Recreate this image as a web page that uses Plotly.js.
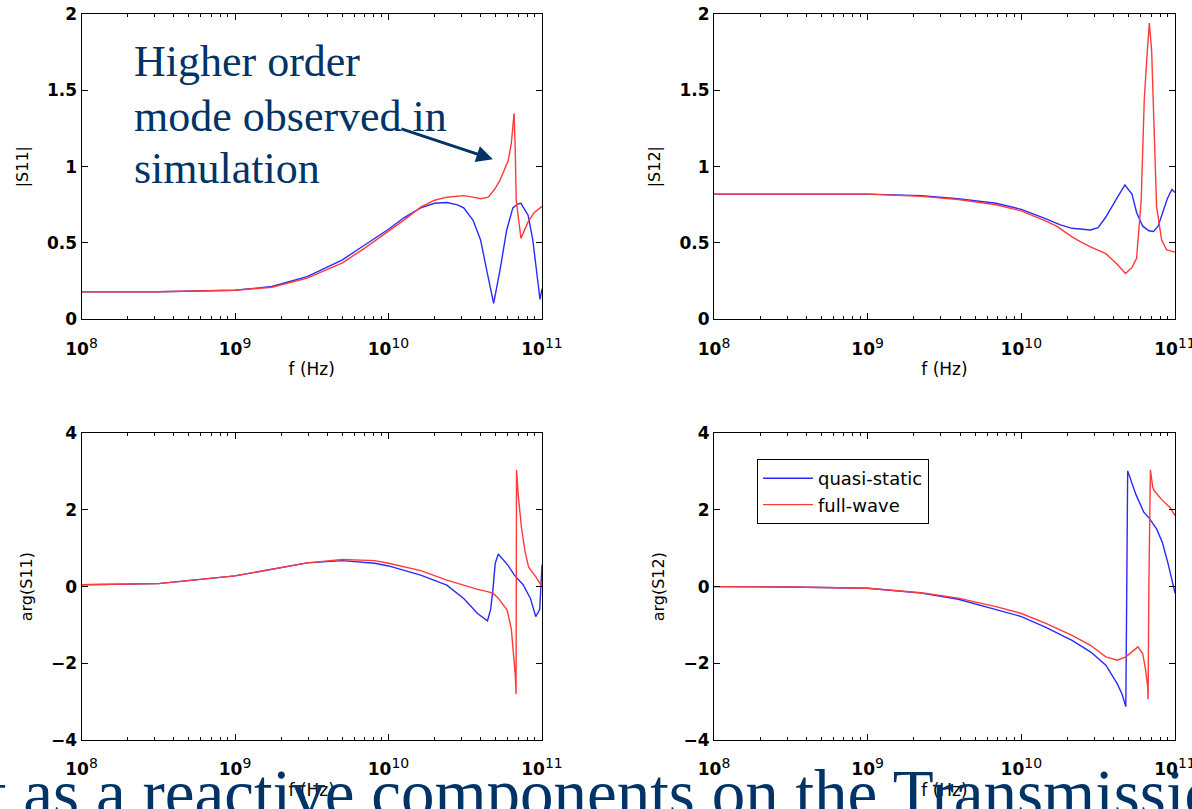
<!DOCTYPE html>
<html>
<head>
<meta charset="utf-8">
<script src="https://cdn.plot.ly/plotly-3.0.1.min.js"></script>
<style>html,body{margin:0;padding:0;background:#fff;}#chart{width:1192px;height:809px;}</style>
</head>
<body>
<div id="chart"></div>
<script>
// ---- Data (frequency in Hz) ----
const seriesNames = ['quasi-static', 'full-wave'];

// |S11|
const qs11mF = [1e8, 3.162e8, 1e9, 1.738e9, 2.951e9, 5.012e9, 7.079e9, 1e10, 1.259e10, 1.622e10, 1.995e10, 2.399e10, 2.818e10, 3.090e10, 3.548e10, 3.981e10, 4.365e10, 4.842e10, 5.321e10, 5.888e10, 6.457e10, 6.918e10, 7.295e10, 8.128e10, 8.710e10, 9.247e10, 9.705e10, 1e11];
const qs11mV = [0.18, 0.18, 0.19, 0.215, 0.28, 0.39, 0.49, 0.59, 0.665, 0.73, 0.76, 0.765, 0.75, 0.73, 0.65, 0.52, 0.32, 0.105, 0.32, 0.585, 0.73, 0.755, 0.76, 0.68, 0.52, 0.32, 0.13, 0.2];
const fw11mF = [1e8, 3.162e8, 1e9, 1.738e9, 2.951e9, 5.012e9, 7.079e9, 1e10, 1.259e10, 1.622e10, 1.995e10, 2.399e10, 3.090e10, 3.548e10, 3.981e10, 4.467e10, 4.898e10, 5.321e10, 5.754e10, 6.026e10, 6.310e10, 6.577e10, 6.699e10, 6.792e10, 7.295e10, 7.586e10, 8.128e10, 8.913e10, 1e11];
const fw11mV = [0.18, 0.18, 0.19, 0.21, 0.27, 0.37, 0.47, 0.575, 0.65, 0.735, 0.78, 0.80, 0.81, 0.80, 0.79, 0.80, 0.85, 0.91, 1.0, 1.04, 1.15, 1.35, 1.1, 0.78, 0.53, 0.57, 0.64, 0.70, 0.74];

// |S12|
const qs12mF = [1e8, 1e9, 2.239e9, 3.890e9, 6.839e9, 1e10, 1.435e10, 1.778e10, 2.138e10, 2.818e10, 3.162e10, 3.548e10, 4.169e10, 4.721e10, 5.248e10, 5.623e10, 6.166e10, 6.761e10, 7.244e10, 7.762e10, 8.318e10, 8.913e10, 9.550e10, 1e11];
const qs12mV = [0.82, 0.82, 0.81, 0.79, 0.76, 0.72, 0.66, 0.62, 0.596, 0.585, 0.60, 0.67, 0.79, 0.88, 0.82, 0.70, 0.61, 0.58, 0.575, 0.61, 0.70, 0.79, 0.85, 0.83];
const fw12mF = [1e8, 1e9, 2.239e9, 3.890e9, 6.839e9, 1e10, 1.435e10, 1.698e10, 2.138e10, 2.399e10, 2.818e10, 3.548e10, 4.207e10, 4.764e10, 5.248e10, 5.623e10, 6.026e10, 6.310e10, 6.607e10, 6.808e10, 7.047e10, 7.295e10, 7.586e10, 8.185e10, 8.831e10, 1e11];
const fw12mV = [0.82, 0.82, 0.805, 0.785, 0.75, 0.71, 0.645, 0.61, 0.54, 0.51, 0.475, 0.43, 0.36, 0.30, 0.34, 0.40, 0.78, 1.44, 1.76, 1.94, 1.76, 1.22, 0.74, 0.52, 0.454, 0.44];

// arg(S11)
const qs11pF = [1e8, 3.162e8, 1e9, 1.738e9, 2.951e9, 5.012e9, 8.128e9, 1e10, 1.622e10, 2.399e10, 3.090e10, 3.802e10, 4.416e10, 4.624e10, 4.786e10, 4.955e10, 5.188e10, 6.026e10, 6.607e10, 7.534e10, 8.395e10, 9.099e10, 9.661e10, 9.863e10, 1e11];
const qs11pV = [0.05, 0.08, 0.28, 0.45, 0.62, 0.68, 0.61, 0.54, 0.30, 0.04, -0.31, -0.70, -0.89, -0.6, -0.09, 0.6, 0.85, 0.55, 0.30, 0.05, -0.30, -0.78, -0.6, 0.1, 0.57];
const fw11pF = [1e8, 3.162e8, 1e9, 1.738e9, 2.951e9, 5.012e9, 8.128e9, 1e10, 1.622e10, 2.399e10, 3.090e10, 3.802e10, 4.416e10, 4.786e10, 5.188e10, 5.929e10, 6.310e10, 6.531e10, 6.607e10, 6.699e10, 6.776e10, 6.823e10, 6.998e10, 7.345e10, 7.762e10, 8.185e10, 9.099e10, 1e11];
const fw11pV = [0.05, 0.08, 0.28, 0.45, 0.62, 0.71, 0.68, 0.61, 0.42, 0.17, 0.03, -0.07, -0.13, -0.17, -0.30, -0.61, -1.1, -1.7, -2.09, -2.3, -2.8, 3.04, 2.4, 1.55, 0.9, 0.51, 0.26, 0.0];

// arg(S12)
const qs12pF = [1e8, 3.162e8, 1e9, 2.239e9, 3.890e9, 6.839e9, 1e10, 1.445e10, 2.138e10, 2.818e10, 3.548e10, 4.207e10, 4.519e10, 4.786e10, 4.842e10, 4.920e10, 5.572e10, 6.252e10, 6.808e10, 7.603e10, 8.279e10, 9.016e10, 1e11];
const qs12pV = [0, -0.01, -0.04, -0.17, -0.33, -0.59, -0.78, -1.06, -1.40, -1.70, -2.05, -2.53, -2.8, -3.13, 0.0, 3.02, 2.4, 1.95, 1.78, 1.5, 1.15, 0.6, -0.17];
const fw12pF = [1e8, 3.162e8, 1e9, 2.239e9, 3.890e9, 6.839e9, 1e10, 1.445e10, 2.138e10, 2.818e10, 3.548e10, 4.207e10, 4.786e10, 5.741e10, 6.166e10, 6.427e10, 6.637e10, 6.683e10, 6.761e10, 6.918e10, 7.161e10, 7.328e10, 8.279e10, 9.333e10, 1e11];
const fw12pV = [0, -0.01, -0.04, -0.16, -0.30, -0.52, -0.70, -0.96, -1.27, -1.53, -1.83, -1.92, -1.83, -1.57, -1.75, -2.16, -2.6, -2.94, 0.05, 3.05, 2.6, 2.5, 2.25, 2.05, 1.85];

// Tick labels
const xTickVals = [1e8, 1e9, 1e10, 1e11];
const xTickExp = ['8', '9', '10', '11'];
const magTickVals = [0, 0.5, 1, 1.5, 2];
const magTickText = ['0', '0.5', '1', '1.5', '2'];
const argTickVals = [-4, -2, 0, 2, 4];
const argTickText = ['\u22124', '\u22122', '0', '2', '4'];
const yTitles = ['|S11|', '|S12|', 'arg(S11)', 'arg(S12)'];
const xTitle = 'f (Hz)';

// ---- Styling ----
const BLUE = '#2a2aff', RED = '#ff3a3a';
const minorVals = [];
for (let d = 8; d < 11; d++) for (let m = 2; m <= 9; m++) minorVals.push(m * Math.pow(10, d));
const xTickText = xTickExp.map(e => '10<sup><span style="font-size:14px;font-weight:normal">' + e + '</span></sup>');

const sans = 'DejaVu Sans, Verdana, sans-serif';
const tickFont = {family: sans, size: 17, color: '#000', weight: 'bold'};
const titleFont = {family: sans, size: 16, color: '#000'};

function xAxis(domain, anchor) {
  return {
    type: 'log', range: [8, 11], domain: domain, anchor: anchor,
    tickvals: xTickVals, ticktext: xTickText, tickfont: tickFont, ticklabeloverflow: 'allow',
    ticks: 'inside', ticklen: 6, tickcolor: '#000', mirror: 'ticks', ticklabelstandoff: 14,
    showline: true, linecolor: '#000', linewidth: 1, showgrid: false, zeroline: false,
    minor: {tickvals: minorVals, ticks: 'inside', ticklen: 3, tickcolor: '#000', showgrid: false},
    title: {text: xTitle, font: {family: sans, size: 17, color: '#000'}, standoff: 5},
    automargin: false
  };
}
function yAxis(domain, anchor, vals, text, range, title) {
  return {
    range: range, domain: domain, anchor: anchor,
    tickvals: vals, ticktext: text, tickfont: tickFont, ticklabeloverflow: 'allow',
    ticks: 'inside', ticklen: 6, tickcolor: '#000', mirror: 'ticks',
    showline: true, linecolor: '#000', linewidth: 1, showgrid: false, zeroline: false,
    title: {text: title, font: titleFont, standoff: 14},
    automargin: false
  };
}

const W = 1192, H = 809;
const xdL = [81.5 / W, 542 / W], xdR = [714 / W, 1175 / W];
const ydT = [1 - 319.3 / H, 1 - 14 / H], ydB = [1 - 740 / H, 1 - 433.3 / H];

function tr(x, y, xa, ya, color, name, show) {
  return {x: x, y: y, xaxis: xa, yaxis: ya, type: 'scatter', mode: 'lines', name: name,
    showlegend: show, line: {color: color, width: 1.4}, hoverinfo: 'skip'};
}

const data = [
  tr(qs11mF, qs11mV, 'x', 'y', BLUE, seriesNames[0], true),
  tr(fw11mF, fw11mV, 'x', 'y', RED, seriesNames[1], true),
  tr(qs12mF, qs12mV, 'x2', 'y2', BLUE, seriesNames[0], false),
  tr(fw12mF, fw12mV, 'x2', 'y2', RED, seriesNames[1], false),
  tr(qs11pF, qs11pV, 'x3', 'y3', BLUE, seriesNames[0], false),
  tr(fw11pF, fw11pV, 'x3', 'y3', RED, seriesNames[1], false),
  tr(qs12pF, qs12pV, 'x4', 'y4', BLUE, seriesNames[0], false),
  tr(fw12pF, fw12pV, 'x4', 'y4', RED, seriesNames[1], false)
];

const NAVY = '#003366';
const serif = 'Liberation Serif, Times New Roman, serif';
const layout = {
  width: W, height: H,
  margin: {l: 0, r: 0, t: 0, b: 0},
  paper_bgcolor: '#fff', plot_bgcolor: '#fff',
  showlegend: true,
  legend: {x: 757 / W, y: 1 - 459 / H, xanchor: 'left', yanchor: 'top',
    bgcolor: '#fff', bordercolor: '#000', borderwidth: 1,
    font: {family: sans, size: 18, color: '#000'},
    itemwidth: 50, tracegroupgap: 0},
  xaxis: xAxis(xdL, 'y'), yaxis: yAxis(ydT, 'x', magTickVals, magTickText, [0, 2], yTitles[0]),
  xaxis2: xAxis(xdR, 'y2'), yaxis2: yAxis(ydT, 'x2', magTickVals, magTickText, [0, 2], yTitles[1]),
  xaxis3: xAxis(xdL, 'y3'), yaxis3: yAxis(ydB, 'x3', argTickVals, argTickText, [-4, 4], yTitles[2]),
  xaxis4: xAxis(xdR, 'y4'), yaxis4: yAxis(ydB, 'x4', argTickVals, argTickText, [-4, 4], yTitles[3]),
  annotations: [
    {text: 'Higher order', xref: 'paper', yref: 'paper', x: 132 / W, y: 1 - 35 / H, xanchor: 'left', yanchor: 'top', showarrow: false, font: {family: serif, size: 44, color: NAVY}},
    {text: 'mode observed in', xref: 'paper', yref: 'paper', x: 132 / W, y: 1 - 90 / H, xanchor: 'left', yanchor: 'top', showarrow: false, font: {family: serif, size: 44, color: NAVY}},
    {text: 'simulation', xref: 'paper', yref: 'paper', x: 132 / W, y: 1 - 141.7 / H, xanchor: 'left', yanchor: 'top', showarrow: false, font: {family: serif, size: 44, color: NAVY}},
    {text: '', xref: 'paper', yref: 'paper', x: 492.9 / W, y: 1 - 159.3 / H, showarrow: true, axref: 'pixel', ayref: 'pixel', ax: -93, ay: -31, arrowhead: 2, arrowsize: 1.1, arrowwidth: 3, arrowcolor: NAVY},
    {text: 't as a reactive components on the Transmission', xref: 'paper', yref: 'paper', x: -14 / W, y: 1 - 754 / H, xanchor: 'left', yanchor: 'top', showarrow: false, font: {family: serif, size: 67, color: NAVY}}
  ]
};

Plotly.newPlot('chart', data, layout, {staticPlot: true, displayModeBar: false});
</script>
</body>
</html>
